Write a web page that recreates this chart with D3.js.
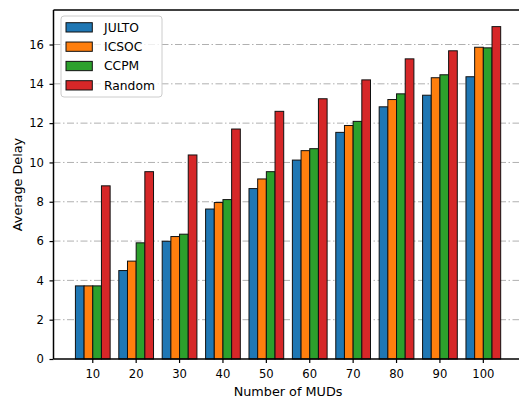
<!DOCTYPE html>
<html>
<head>
<meta charset="utf-8">
<script src="https://cdn.jsdelivr.net/npm/d3@7"></script>
<style>
  body { margin: 0; background: #fff; }
  svg { font-family: "DejaVu Sans", sans-serif; }
</style>
</head>
<body>
<svg width="519" height="399"></svg>
<script>
// Data
const categories = ['10', '20', '30', '40', '50', '60', '70', '80', '90', '100']
const seriesNames = ['JULTO', 'ICSOC', 'CCPM', 'Random']
const julto = [3.72, 4.50, 5.99, 7.63, 8.67, 10.12, 11.53, 12.83, 13.42, 14.36]
const icsoc = [3.72, 4.98, 6.23, 7.96, 9.16, 10.60, 11.88, 13.20, 14.31, 15.86]
const ccpm = [3.72, 5.91, 6.35, 8.11, 9.53, 10.70, 12.09, 13.49, 14.46, 15.83]
const random = [8.81, 9.53, 10.38, 11.70, 12.60, 13.24, 14.20, 15.27, 15.68, 16.91]
const yTicks = [0, 2, 4, 6, 8, 10, 12, 14, 16]
const colors = ['#1f77b4', '#ff7f0e', '#2ca02c', '#d62728']

const allSeries = [julto, icsoc, ccpm, random]
const svg = d3.select('svg')
const margin = {top: 10, left: 53.5, bottom: 359}
const plotRight = 522.6

// outer band scale: groups take 0.8 of the step, like matplotlib's width 0.2 x 4
const x = d3.scaleBand()
  .domain(categories)
  .range([margin.left, plotRight])
  .paddingInner(0.2)
  .paddingOuter(0.505)
const x1 = d3.scaleBand()
  .domain(seriesNames)
  .range([0, x.bandwidth()])
const y = d3.scaleLinear()
  .domain([0, d3.max(random) * 1.05])
  .range([margin.bottom, margin.top])

// grid lines behind the bars
svg.append('g')
  .selectAll('line')
  .data(yTicks.filter(d => d > 0))
  .enter()
  .append('line')
  .attr('x1', margin.left)
  .attr('x2', plotRight)
  .attr('y1', d => y(d))
  .attr('y2', d => y(d))
  .attr('stroke', '#b0b0b0')
  .attr('stroke-width', 1)
  .attr('stroke-dasharray', '7,2.5,1.5,2.5')

// bars
const groups = svg.append('g')
  .selectAll('g')
  .data(categories)
  .enter()
  .append('g')
  .attr('transform', d => 'translate(' + x(d) + ',0)')

groups.selectAll('rect')
  .data((c, i) => seriesNames.map((s, j) => ({s, j, v: allSeries[j][i]})))
  .enter()
  .append('rect')
  .attr('x', d => x1(d.s))
  .attr('y', d => y(d.v))
  .attr('width', x1.bandwidth())
  .attr('height', d => y(0) - y(d.v))
  .attr('fill', d => colors[d.j])
  .attr('stroke', '#111')
  .attr('stroke-width', 1)

// axes
const xAxis = svg.append('g')
  .attr('transform', 'translate(0,' + margin.bottom + ')')
  .call(d3.axisBottom(x).tickSize(4).tickPadding(6.5))
const yAxis = svg.append('g')
  .attr('transform', 'translate(' + margin.left + ',0)')
  .call(d3.axisLeft(y).tickValues(yTicks).tickSize(4).tickPadding(5.5))

for (const ax of [xAxis, yAxis]) {
  ax.select('.domain').remove()
  ax.selectAll('text').attr('font-size', 11.6).attr('fill', '#000').attr('font-family', '"DejaVu Sans", sans-serif')
  ax.selectAll('line').attr('stroke', '#000').attr('stroke-width', 1.2)
}

// spines
svg.append('line').attr('x1', margin.left).attr('x2', margin.left)
  .attr('y1', margin.top).attr('y2', margin.bottom)
  .attr('stroke', '#000').attr('stroke-width', 1.5)
svg.append('line').attr('x1', margin.left).attr('x2', plotRight)
  .attr('y1', margin.bottom).attr('y2', margin.bottom)
  .attr('stroke', '#000').attr('stroke-width', 1.5)
svg.append('line').attr('x1', margin.left).attr('x2', plotRight)
  .attr('y1', margin.top).attr('y2', margin.top)
  .attr('stroke', '#000').attr('stroke-width', 1.5)

// axis titles
svg.append('text')
  .attr('x', (margin.left + plotRight) / 2)
  .attr('y', 396)
  .attr('text-anchor', 'middle')
  .attr('font-size', 12.8)
  .text('Number of MUDs')
svg.append('text')
  .attr('transform', 'translate(21.5,' + (margin.top + margin.bottom) / 2 + ') rotate(-90)')
  .attr('text-anchor', 'middle')
  .attr('font-size', 12.8)
  .text('Average Delay')

// legend
const legend = svg.append('g').attr('transform', 'translate(61,16)')
legend.append('rect')
  .attr('width', 101)
  .attr('height', 81)
  .attr('rx', 3)
  .attr('fill', '#fff')
  .attr('fill-opacity', 0.8)
  .attr('stroke', '#ccc')
legend.selectAll('.item')
  .data(seriesNames)
  .enter()
  .append('g')
  .attr('class', 'item')
  .attr('transform', (d, i) => 'translate(0,' + (11.3 + i * 19.33) + ')')
  .each(function(d, i) {
    const g = d3.select(this)
    g.append('rect')
      .attr('x', 5).attr('y', -4.6)
      .attr('width', 26.3).attr('height', 9.3)
      .attr('fill', colors[i])
      .attr('stroke', '#111')
    g.append('text')
      .attr('x', 43)
      .attr('y', 4.4)
      .attr('font-size', 12.3)
      .text(d)
  })
</script>
</body>
</html>
